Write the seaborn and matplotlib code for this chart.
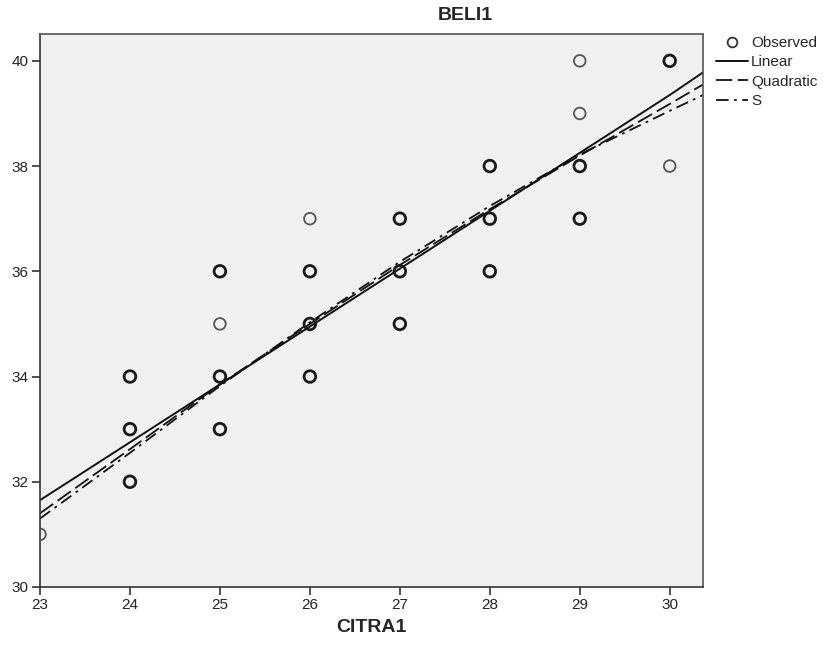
import matplotlib
matplotlib.use("Agg")
import matplotlib.pyplot as plt
import seaborn as sns
import pandas as pd
from matplotlib.lines import Line2D

# Observed data (x = CITRA1, y = BELI1, n = overlapping count estimate)
obs_x = [23, 24, 24, 24, 25, 25, 25, 25, 26, 26, 26, 26, 27, 27, 27, 28, 28, 28, 29, 29, 29, 29, 30, 30]
obs_y = [31, 34, 33, 32, 36, 35, 34, 33, 37, 36, 35, 34, 37, 36, 35, 38, 37, 36, 40, 39, 38, 37, 40, 38]
obs_n = [1, 2, 2, 2, 2, 1, 2, 2, 1, 2, 2, 2, 2, 2, 2, 2, 2, 2, 1, 1, 2, 2, 2, 1]

# Fitted curves
fit_x = [23, 24, 25, 26, 27, 28, 29, 30, 30.37]
linear_y = [31.65, 32.75, 33.85, 34.95, 36.05, 37.15, 38.25, 39.35, 39.78]
quad_y = [31.40, 32.62, 33.85, 35.00, 36.12, 37.18, 38.20, 39.18, 39.55]
s_y = [31.30, 32.55, 33.82, 35.03, 36.18, 37.24, 38.22, 39.05, 39.35]

title = "BELI1"
xlabel = "CITRA1"
xticks = [23, 24, 25, 26, 27, 28, 29, 30]
yticks = [30, 32, 34, 36, 38, 40]

sns.set_style("ticks")
plt.rcParams["font.family"] = ["Liberation Sans", "DejaVu Sans"]

fig = plt.figure(figsize=(8.23, 6.49), dpi=100)
ax = fig.add_axes([40 / 823, 62 / 649, 663 / 823, 553 / 649])
ax.set_facecolor("#f0f0f0")

obs = pd.DataFrame({"x": obs_x, "y": obs_y, "n": obs_n})
heavy = obs[obs["n"] > 1]
light = obs[obs["n"] == 1]
sns.scatterplot(data=heavy, x="x", y="y", ax=ax, marker="o", s=70,
                facecolor="none", edgecolor="#1a1a1a", linewidth=2.0, zorder=3, clip_on=True)
sns.scatterplot(data=light, x="x", y="y", ax=ax, marker="o", s=70,
                facecolor="none", edgecolor="#555555", linewidth=1.3, zorder=3, clip_on=True)

fits = pd.DataFrame({"x": fit_x, "lin": linear_y, "quad": quad_y, "s": s_y})
sns.lineplot(data=fits, x="x", y="lin", ax=ax, color="#111111", linewidth=1.4, zorder=2)
sns.lineplot(data=fits, x="x", y="quad", ax=ax, color="#111111", linewidth=1.3,
             linestyle=(0, (9, 3)), zorder=2)
sns.lineplot(data=fits, x="x", y="s", ax=ax, color="#111111", linewidth=1.3,
             linestyle=(0, (7, 3, 1.5, 3)), zorder=2)

ax.set_xlim(23, 30.37)
ax.set_ylim(30, 40.51)
ax.set_xticks(xticks)
ax.set_yticks(yticks)
ax.tick_params(axis="both", direction="out", length=6, width=1.2, color="#333333",
               labelsize=11, labelcolor="#222222", pad=2)
for sp in ax.spines.values():
    sp.set_visible(True)
    sp.set_color("#555555")
    sp.set_linewidth(1.2)
ax.spines["left"].set_color("#333333")
ax.spines["bottom"].set_color("#333333")

ax.set_xlabel("")
ax.set_ylabel("")
fig.text(371 / 823, 1 - 628 / 649, xlabel, fontsize=14, fontweight="bold",
         ha="center", va="center")
fig.text(465 / 823, 1 - 15 / 649, title, fontsize=14, fontweight="bold",
         ha="center", va="center")

handles = [
    Line2D([], [], marker="o", linestyle="none", markerfacecolor="none",
           markeredgecolor="#333333", markersize=7, markeredgewidth=1.3),
    Line2D([], [], color="#111111", linewidth=1.4),
    Line2D([], [], color="#111111", linewidth=1.3, linestyle=(0, (9, 3))),
    Line2D([], [], color="#111111", linewidth=1.3, linestyle=(0, (7, 3, 1.5, 3))),
]
labels = ["Observed", "Linear", "Quadratic", "S"]
fig.legend(handles, labels, loc="upper left", bbox_to_anchor=(716 / 823, 1 - 36 / 649),
           frameon=False, fontsize=11, handlelength=2.1, handletextpad=0.2,
           labelspacing=0.35, borderaxespad=0, borderpad=0)

fig.savefig("out.png", dpi=100)
